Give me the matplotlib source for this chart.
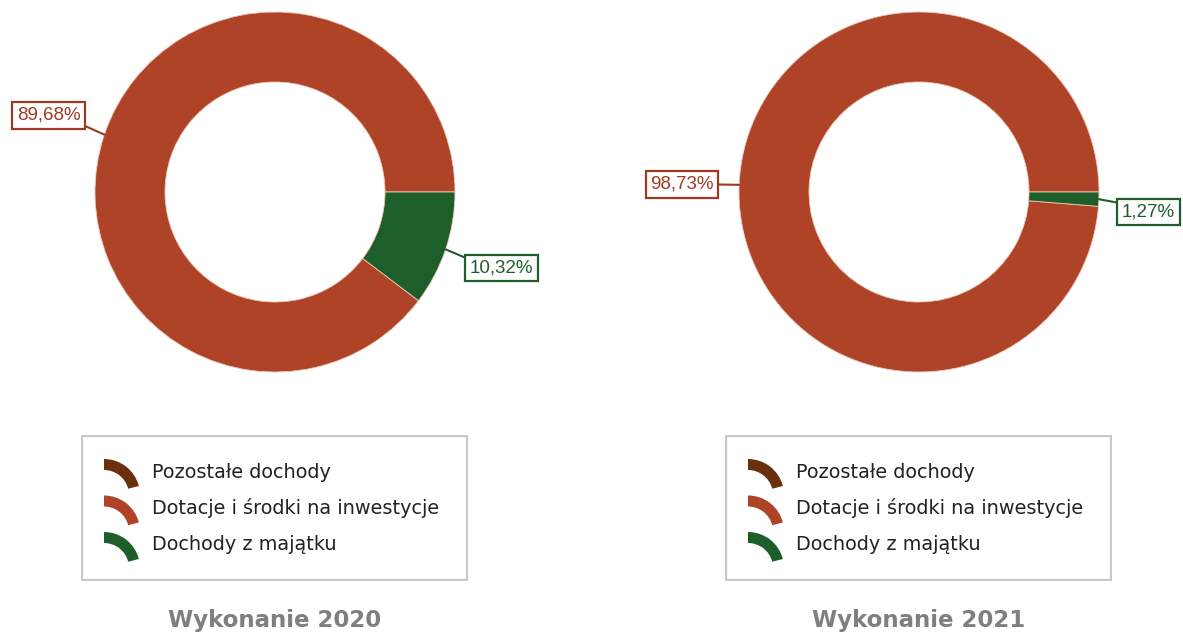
import matplotlib.pyplot as plt
from matplotlib.patches import Wedge, Rectangle
import numpy as np

categories = ['Pozostałe dochody', 'Dotacje i środki na inwestycje', 'Dochody z majątku']
colors = ['#6a300b', '#ae4327', '#1e5e2b']
label_colors = ['#6a300b', '#9c3b22', '#1e5e2b']
years = ['Wykonanie 2020', 'Wykonanie 2021']
shares_2020 = [0.0, 89.68, 10.32]
shares_2021 = [0.0, 98.73, 1.27]
series = [shares_2020, shares_2021]

W, H = 1183, 635
fig = plt.figure(figsize=(W / 100, H / 100), dpi=100)

centers_x = [275, 919]
center_y = 192
R = 180
# label box centres (in pie radius units) and leader attach point on the box
label_pos = [{1: ((-1.256, 0.425), (1, 0)), 2: ((1.256, -0.422), (0, 1))},
             {1: ((-1.317, 0.042), (1, 0.5)), 2: ((1.275, -0.111), (0, 1))}]

for k, vals in enumerate(series):
    half = 210
    ax = fig.add_axes([(centers_x[k] - half) / W, (H - center_y - half) / H,
                       2 * half / W, 2 * half / H])
    wedges, _ = ax.pie(vals, colors=colors, startangle=0, counterclock=True,
                       radius=1, wedgeprops=dict(width=70 / R, edgecolor='#f0c8b8',
                                                 linewidth=0.6))
    ax.set_xlim(-half / R, half / R)
    ax.set_ylim(-half / R, half / R)
    ax.set_axis_off()
    for i, w in enumerate(wedges):
        if vals[i] <= 0:
            continue
        mid = np.deg2rad((w.theta1 + w.theta2) / 2)
        xy = (np.cos(mid), np.sin(mid))
        txt = ('%.2f%%' % vals[i]).replace('.', ',')
        pos, rel = label_pos[k][i]
        ax.annotate(txt, xy=xy, xytext=pos, ha='center', va='center',
                    fontsize=13.5, family='Liberation Sans', color=label_colors[i],
                    bbox=dict(boxstyle='square,pad=0.25', fc='white',
                              ec=label_colors[i], lw=1.6),
                    arrowprops=dict(arrowstyle='-', color=label_colors[i], lw=1.5,
                                    shrinkA=0, shrinkB=0, relpos=rel))

    # legend box
    bx0 = centers_x[k] - 194
    by0 = 435
    bw, bh = 387, 146
    lax = fig.add_axes([bx0 / W, (H - by0 - bh) / H, bw / W, bh / H])
    lax.set_xlim(0, bw)
    lax.set_ylim(bh, 0)
    lax.set_axis_off()
    lax.add_patch(Rectangle((1, 1), bw - 2, bh - 2, fill=False, ec='#c8c8c8', lw=1.6))
    for i, name in enumerate(categories):
        ry = 37 + i * 36.5
        lax.add_patch(Wedge((23, ry + 23), 36, -90, -14.5, width=11, fc=colors[i], ec='none'))
        lax.text(70.5, ry, name, ha='left', va='center', fontsize=13.85,
                 family='DejaVu Sans', color='#222222')

    fig.text(centers_x[k] / W, 1 - 620 / H, years[k], ha='center', va='center',
             fontsize=16.5, fontweight='bold', family='DejaVu Sans', color='#7f7f7f')

fig.savefig('out.png', dpi=100)
